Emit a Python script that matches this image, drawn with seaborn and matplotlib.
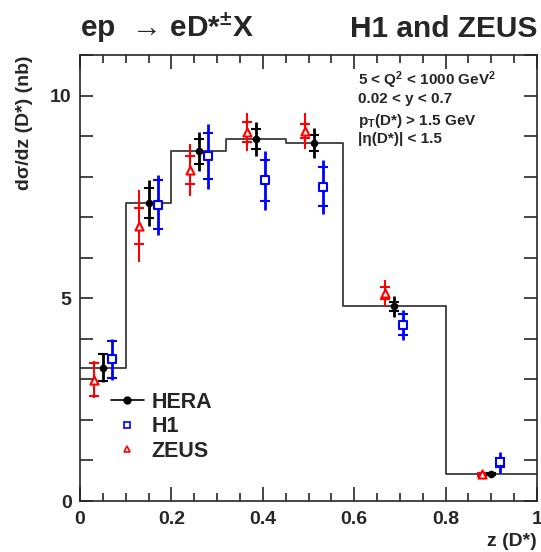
import numpy as np
import pandas as pd
import matplotlib
matplotlib.use("Agg")
import matplotlib.pyplot as plt
from matplotlib.lines import Line2D
import seaborn as sns

# bin edges in z(D*) and the HERA combination (histogram + points)
edges = [0.0, 0.1, 0.2, 0.32, 0.45, 0.575, 0.8, 1.0]
z_hera = [0.05, 0.15, 0.26, 0.385, 0.5125, 0.6875, 0.9]
hera = [3.29, 7.35, 8.62, 8.92, 8.83, 4.80, 0.66]
hera_stat = [0.33, 0.36, 0.30, 0.25, 0.20, 0.12, 0.02]
hera_tot = [0.36, 0.57, 0.49, 0.42, 0.38, 0.25, 0.04]

# H1 (shifted right in z for visibility)
z_h1 = [0.07, 0.17, 0.28, 0.405, 0.5325, 0.7075, 0.92]
h1 = [3.49, 7.31, 8.50, 7.91, 7.75, 4.35, 0.95]
h1_stat = [0.46, 0.60, 0.57, 0.50, 0.48, 0.26, 0.10]
h1_tot = [0.50, 0.74, 0.80, 0.73, 0.67, 0.37, 0.25]

# ZEUS (shifted left)
z_zeus = [0.03, 0.13, 0.24, 0.365, 0.4925, 0.6675, 0.88]
zeus = [2.99, 6.78, 8.17, 9.10, 9.12, 5.13, 0.66]
zeus_stat = [0.41, 0.45, 0.35, 0.25, 0.17, 0.14, 0.04]
zeus_tot = [0.46, 0.88, 0.64, 0.47, 0.44, 0.33, 0.06]

cuts = [r"5 < Q$^{2}$ < 1000 GeV$^{2}$",
        "0.02 < y < 0.7",
        r"p$_{\mathrm{T}}$(D*) > 1.5 GeV",
        "|η(D*)| < 1.5"]

sns.set_style("ticks")
plt.rcParams['font.family'] = ['Liberation Sans', 'DejaVu Sans']
plt.rcParams['font.weight'] = 'bold'
plt.rcParams['mathtext.fontset'] = 'custom'
plt.rcParams['mathtext.rm'] = 'Liberation Sans:bold'
plt.rcParams['mathtext.bf'] = 'Liberation Sans:bold'
plt.rcParams['mathtext.it'] = 'Liberation Sans:bold'
plt.rcParams['mathtext.default'] = 'rm'

fig = plt.figure(figsize=(5.41, 5.52), dpi=100)
ax = fig.add_axes([80 / 541, 1 - 501 / 552, 457 / 541, 446 / 552])

# HERA histogram
sns.histplot(x=z_hera, weights=hera, bins=edges, element="step", fill=False,
             color="#3a3a3a", linewidth=1.3, ax=ax)

series = [
    ("ZEUS", z_zeus, zeus, zeus_stat, zeus_tot, "red", "^", 1.5),
    ("HERA", z_hera, hera, hera_stat, hera_tot, "black", "o", 2.0),
    ("H1", z_h1, h1, h1_stat, h1_tot, "blue", "s", 2.0),
]
for name, z, v, st, tot, col, mk, lw in series:
    ax.errorbar(z, v, yerr=tot, fmt="none", ecolor=col, elinewidth=lw, zorder=3)
    ax.errorbar(z, v, yerr=st, fmt="none", ecolor=col, elinewidth=0,
                capsize=3.5, capthick=1.5, zorder=3)
    df = pd.DataFrame({"z": z, "v": v})
    if name == "HERA":
        sns.scatterplot(data=df, x="z", y="v", marker=mk, color=col, s=30,
                        edgecolor=col, linewidth=0, zorder=4, ax=ax, legend=False)
    else:
        sns.scatterplot(data=df, x="z", y="v", marker=mk, facecolor="white",
                        edgecolor=col, s=34, linewidth=1.5, zorder=4, ax=ax,
                        legend=False)

ax.set_xlim(0, 1)
ax.set_ylim(0, 11)
ax.set_xticks([0, 0.2, 0.4, 0.6, 0.8, 1.0])
ax.set_xticklabels(["0", "0.2", "0.4", "0.6", "0.8", "1"])
ax.set_xticks(np.arange(0, 1.001, 0.05), minor=True)
ax.set_yticks([0, 5, 10])
ax.set_yticks(np.arange(0, 11.01, 1), minor=True)
ax.tick_params(which="both", direction="in", top=True, right=True,
               labelsize=14, width=1.2)
ax.tick_params(axis="x", which="major", length=10, pad=7)
ax.tick_params(axis="x", which="minor", length=5.5)
ax.tick_params(axis="y", which="both", length=9.5, pad=6)
for sp in ax.spines.values():
    sp.set_linewidth(1.2)

ax.set_xlabel("z (D*)", loc="right", fontsize=14, fontweight="bold")
ax.set_ylabel("dσ/dz (D*) (nb)", loc="top", fontsize=14, fontweight="bold",
              labelpad=12)

handles = [
    Line2D([], [], color="black", marker="o", markersize=5, linewidth=1.2),
    Line2D([], [], color="blue", marker="s", markersize=4.5, linestyle="none",
           markerfacecolor="white", markeredgewidth=1.2),
    Line2D([], [], color="red", marker="^", markersize=4.5, linestyle="none",
           markerfacecolor="white", markeredgewidth=1.2),
]
ax.legend(handles, ["HERA", "H1", "ZEUS"], loc="upper left",
          bbox_to_anchor=(0.067, 0.245), frameon=False, fontsize=15.5,
          handlelength=1.55, handletextpad=0.35, labelspacing=0.16,
          borderpad=0, borderaxespad=0)

for txt, yy in zip(cuts, [0.944, 0.901, 0.853, 0.811]):
    ax.text(0.608, yy, txt, transform=ax.transAxes, fontsize=11,
            fontweight="bold", va="center", ha="left")

fig.text(80 / 541, 1 - 37 / 552, "ep  → eD*$^{\\pm}$X",
         fontsize=21.5, fontweight="bold", ha="left", va="baseline")
fig.text(537 / 541, 1 - 37 / 552, "H1 and ZEUS", fontsize=21.5,
         fontweight="bold", ha="right", va="baseline")

fig.savefig("out.png", dpi=100)
